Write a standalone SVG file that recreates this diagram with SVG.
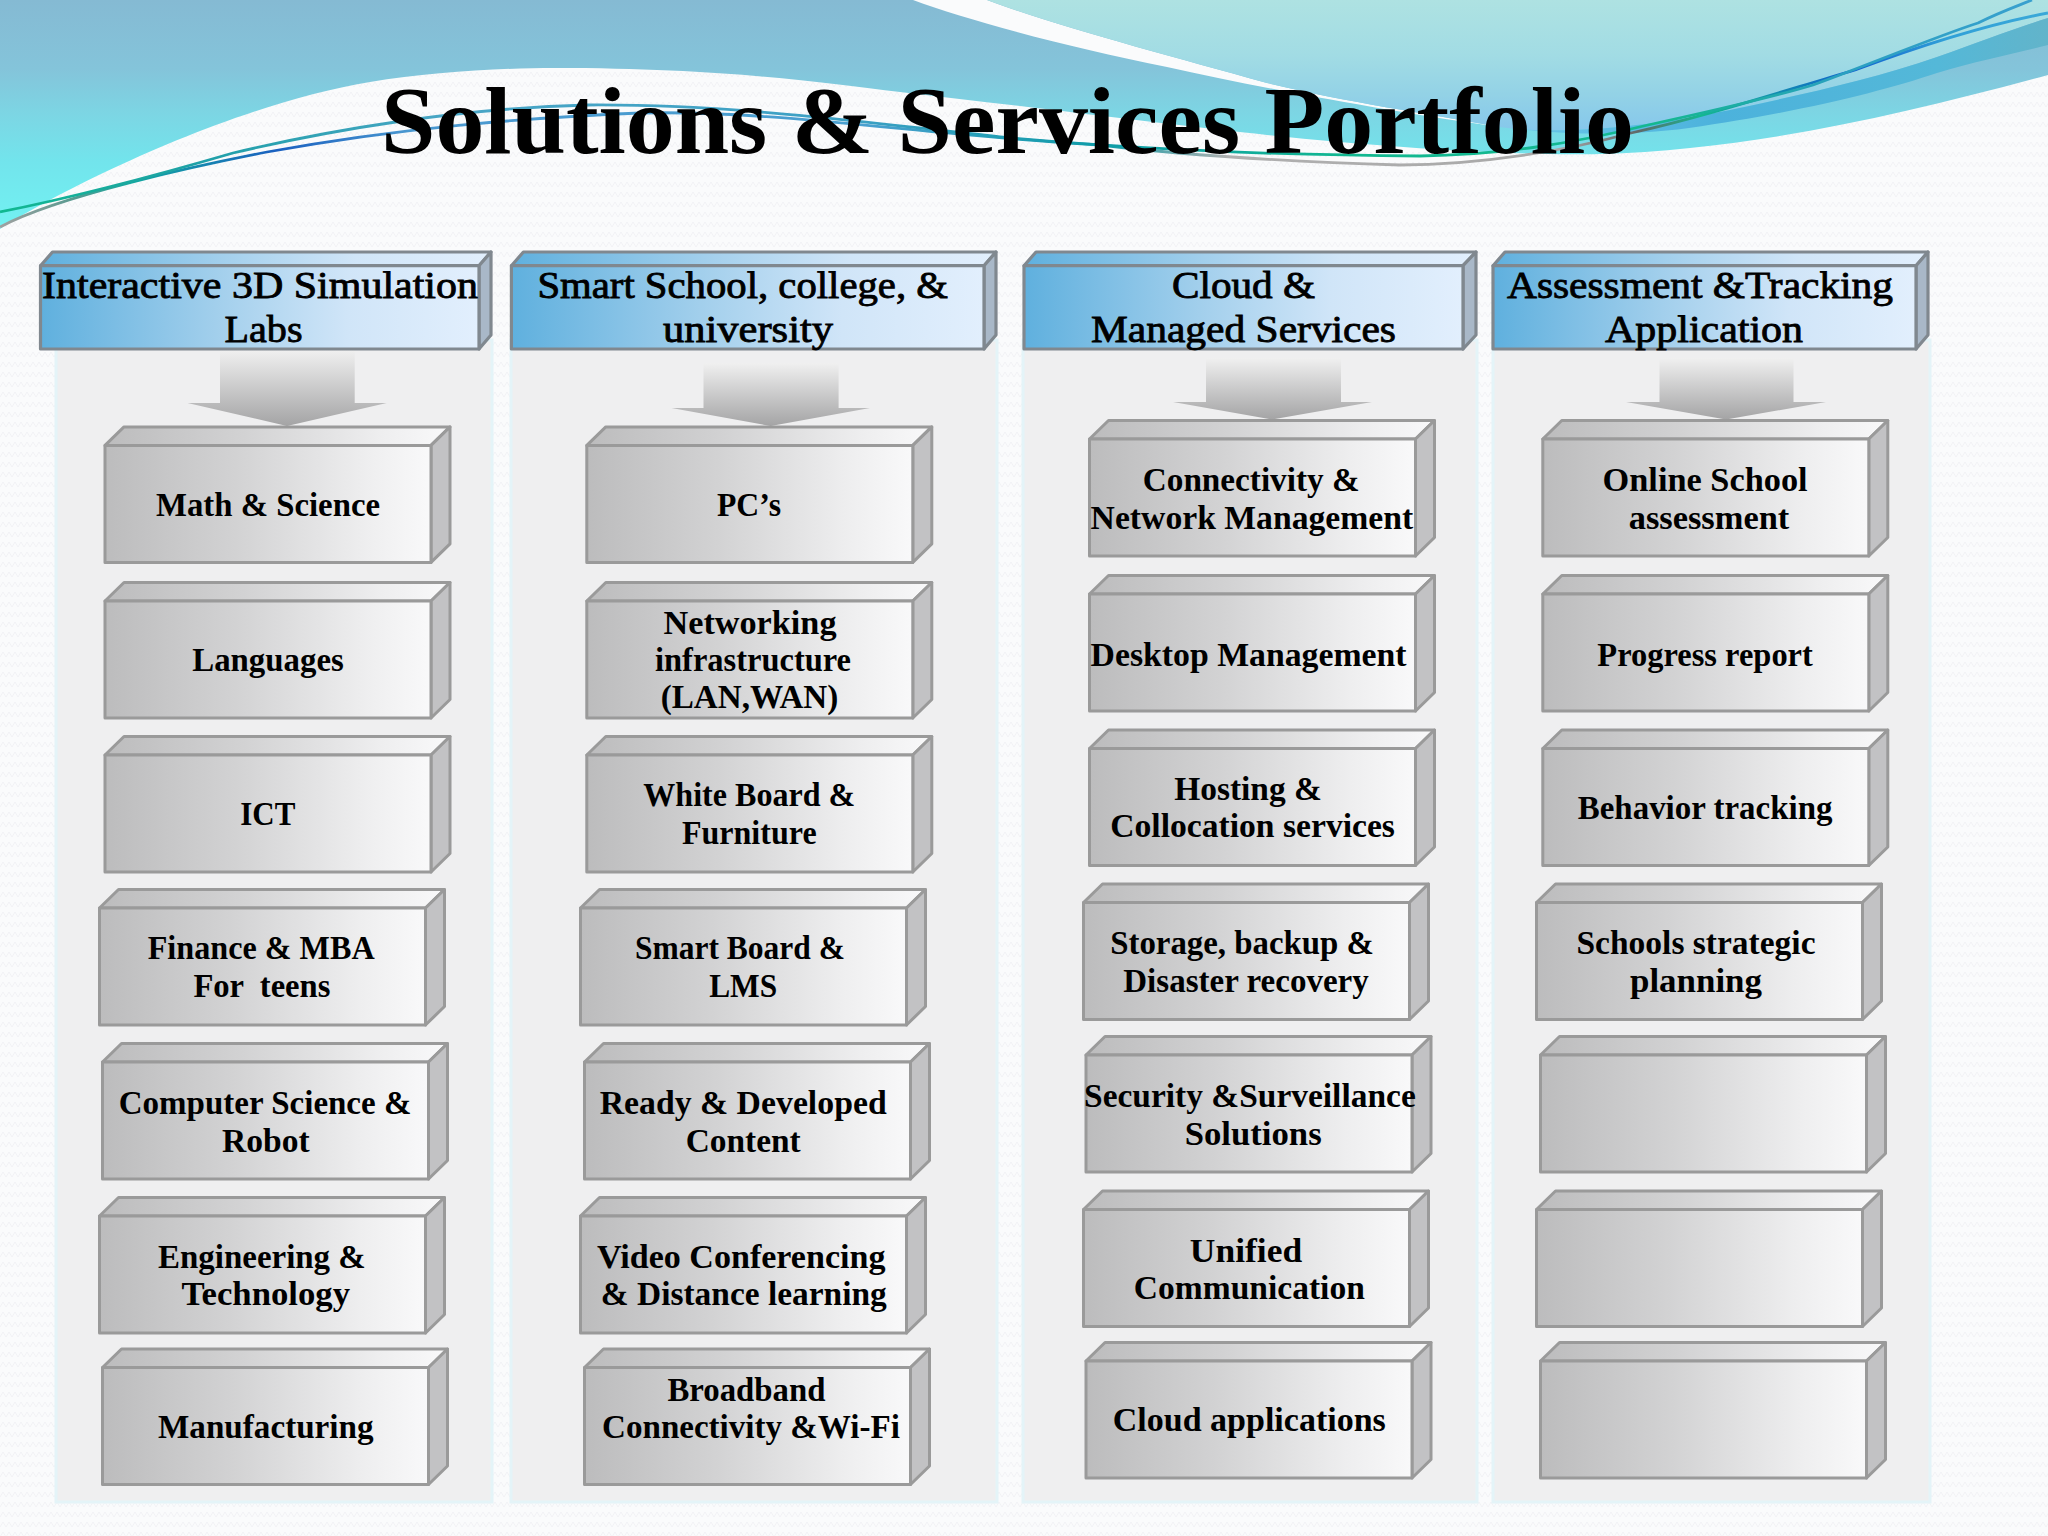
<svg xmlns="http://www.w3.org/2000/svg" xmlns:xlink="http://www.w3.org/1999/xlink" width="2048" height="1536" viewBox="0 0 2048 1536">
<style>
text{font-family:"Liberation Serif","Times New Roman",serif;fill:#000;text-anchor:middle}
.t{font-size:33px;font-weight:700;white-space:pre}
.h{font-size:38px;font-weight:400;stroke:#000;stroke-width:.85}
.title{font-size:96px;font-weight:700}
.panel{fill:#efeff0;stroke:#e4f4f8;stroke-width:3}
.hf{fill:url(#hg);stroke:#80888f;stroke-width:3.2;stroke-linejoin:round}
.hs{fill:#a9b8c8;stroke:#80888f;stroke-width:3.2;stroke-linejoin:round}
.arrow{fill:url(#ag)}
.wire{fill:none;stroke-width:2.8}
</style>
<defs>
<pattern id="tex" width="12" height="10" patternUnits="userSpaceOnUse"><path d="M0 7 L3 2 L6 7 L9 2 L12 7" fill="none" stroke="#f1f2f5" stroke-width="1"/></pattern>
<linearGradient id="ga" x1="0" y1="0" x2="0" y2="230" gradientUnits="userSpaceOnUse"><stop offset="0" stop-color="#85bad3"/><stop offset=".3" stop-color="#84c4da"/><stop offset=".5" stop-color="#7cd6e4"/><stop offset=".7" stop-color="#72e4ec"/><stop offset="1" stop-color="#72f2f2"/></linearGradient>
<linearGradient id="gb" x1="0" y1="0" x2="0" y2="135" gradientUnits="userSpaceOnUse"><stop offset="0" stop-color="#aee2e2"/><stop offset=".4" stop-color="#a2dce4"/><stop offset=".7" stop-color="#93d2e6"/><stop offset="1" stop-color="#84c6ec"/></linearGradient>
<linearGradient id="gd" x1="1499" y1="0" x2="2048" y2="0" gradientUnits="userSpaceOnUse"><stop offset="0" stop-color="#6cc8ea"/><stop offset=".4" stop-color="#4cb2dc"/><stop offset=".8" stop-color="#54b8d8"/><stop offset="1" stop-color="#62b4ca"/></linearGradient>
<linearGradient id="l1" x1="0" y1="0" x2="2048" y2="0" gradientUnits="userSpaceOnUse"><stop offset="0" stop-color="#10b890"/><stop offset=".1" stop-color="#1fa0a8"/><stop offset=".22" stop-color="#4aa6c6"/><stop offset=".42" stop-color="#3ba0c4"/><stop offset=".54" stop-color="#0e9ca8"/><stop offset=".66" stop-color="#12b890"/><stop offset=".81" stop-color="#14b890"/><stop offset=".9" stop-color="#2aa0c0"/><stop offset="1" stop-color="#3aa0d0"/></linearGradient>
<linearGradient id="l2" x1="0" y1="0" x2="2048" y2="0" gradientUnits="userSpaceOnUse"><stop offset="0" stop-color="#a0a0a0"/><stop offset=".035" stop-color="#5a9a90"/><stop offset=".065" stop-color="#12a8a0"/><stop offset=".135" stop-color="#1a60c0"/><stop offset=".2" stop-color="#4a98d0"/><stop offset=".42" stop-color="#4aa0d0"/><stop offset=".54" stop-color="#109ca8"/><stop offset=".6" stop-color="#b0b0b0"/><stop offset=".76" stop-color="#a8a8a8"/><stop offset=".8" stop-color="#606868"/><stop offset=".83" stop-color="#14b890"/><stop offset=".905" stop-color="#1060d0"/><stop offset=".95" stop-color="#30a0d8"/><stop offset="1" stop-color="#3aa8d8"/></linearGradient>
<linearGradient id="fg" x1="0" y1="0" x2="1" y2="0"><stop offset="0" stop-color="#bcbcbd"/><stop offset=".4" stop-color="#d2d2d3"/><stop offset=".8" stop-color="#eeeeef"/><stop offset="1" stop-color="#f9f9fa"/></linearGradient>
<linearGradient id="hg" x1="0" y1="0" x2="1" y2="0"><stop offset="0" stop-color="#5fb0de"/><stop offset=".4" stop-color="#a2cfec"/><stop offset=".7" stop-color="#d0e5f8"/><stop offset="1" stop-color="#e2effd"/></linearGradient>
<linearGradient id="ag" x1="0" y1="0" x2="0" y2="1"><stop offset="0" stop-color="#f0f0f0"/><stop offset="1" stop-color="#a4a4a5"/></linearGradient>
<g id="box" stroke="#9a9a9a" stroke-width="3" stroke-linejoin="round">
<polygon points="0,0 19,-18.500 345,-18.500 326,0" fill="url(#fg)"/>
<polygon points="326,0 345,-18.500 345,98.500 326,117" fill="#c2c2c4"/>
<rect x="0" y="0" width="326" height="117" fill="url(#fg)"/>
</g>
</defs>

<g id="background">
<rect width="2048" height="1536" fill="#fafbfc"/>
<rect width="2048" height="1536" fill="url(#tex)"/>
<path id="wave-main" fill="url(#ga)" d="M0,0 H2048 V75 C1900,115 1750,150 1600,154 C1520,156 1390,148 1267,135 C1180,126 1040,108 900,92 C820,82 720,68 555,68 C500,68 430,72 370,82 C230,105 60,190 0,229 Z"/>
<path id="wave-band" fill="#fafbfc" d="M913,0 C967,20 1067,47 1167,67 C1270,90 1400,113 1499,127 C1420,112 1350,103 1267,83 C1167,55 1060,27 987,0 Z"/>
<path id="wave-upper" fill="url(#gb)" d="M987,0 C1060,27 1167,55 1267,83 C1350,103 1420,112 1499,127 C1560,135 1640,128 1730,110 C1800,95 1870,80 1937,57 C1980,42 2010,30 2048,18 V0 Z"/>
<path id="wave-dark" fill="url(#gd)" d="M1499,127 C1560,135 1640,128 1730,110 C1800,95 1870,80 1937,57 C1980,42 2010,30 2048,18 V45 C2010,55 1980,60 1937,73 C1880,92 1800,112 1689,128 C1620,137 1560,134 1499,127 Z"/>
<path class="wire" stroke="url(#l2)" d="M0,227 C60,195 200,165 267,152 C400,128 520,118 640,113 C780,110 920,135 1100,145 C1200,157 1300,162 1400,165 C1480,165 1570,150 1631,133 C1700,118 1780,92 1855,70 C1930,42 2000,22 2048,13"/>
<path class="wire" stroke="url(#l1)" d="M0,212 C60,200 130,183 233,153 C330,130 460,108 588,105 C720,104 850,120 1000,137 C1120,148 1250,155 1420,156 C1500,155 1570,144 1648,125 C1730,107 1790,92 1813,85 C1860,68 1940,35 1978,23 C2000,12 2020,5 2032,0"/>
</g>

<g id="panels">
<rect class="panel" x="56" y="340" width="436" height="1162"/>
<rect class="panel" x="511" y="340" width="486" height="1162"/>
<rect class="panel" x="1023" y="340" width="454" height="1162"/>
<rect class="panel" x="1493" y="340" width="437" height="1162"/>
</g>

<text id="title" class="title" x="1007.500" y="153" textLength="1253" lengthAdjust="spacingAndGlyphs">Solutions &amp; Services Portfolio</text>

<g id="connectors">
<polygon class="arrow" points="220,350 354.700,350 354.700,403 386.700,403 287,426 187.500,403 220,403"/>
<polygon class="arrow" points="703.500,363 838.600,363 838.600,408 870,408 770.700,426 671.500,408 703.500,408"/>
<polygon class="arrow" points="1206,358 1341,358 1341,402 1372,402 1272,419.500 1173,402 1206,402"/>
<polygon class="arrow" points="1659.500,358 1793.500,358 1793.500,402 1826,402 1726,419.500 1626,402 1659.500,402"/>
</g>

<g id="header-1">
<polygon class="hf" points="40.500,265.700 52.500,252 491,252 479,265.700"/>
<polygon class="hs" points="479,265.700 491,252 491,335 479,349"/>
<rect class="hf" x="40.500" y="265.700" width="438.500" height="83.300"/>
<text class="h" x="260" y="298" textLength="436" lengthAdjust="spacingAndGlyphs">Interactive 3D Simulation</text>
<text class="h" x="263.500" y="342" textLength="78" lengthAdjust="spacingAndGlyphs">Labs</text>
</g>
<g id="header-2">
<polygon class="hf" points="511.400,265.700 523.400,252 996,252 984,265.700"/>
<polygon class="hs" points="984,265.700 996,252 996,335 984,349"/>
<rect class="hf" x="511.400" y="265.700" width="472.600" height="83.300"/>
<text class="h" x="742.700" y="298" textLength="410.500" lengthAdjust="spacingAndGlyphs">Smart School, college, &amp;</text>
<text class="h" x="748" y="342" textLength="170" lengthAdjust="spacingAndGlyphs">university</text>
</g>
<g id="header-3">
<polygon class="hf" points="1024,265.700 1036,252 1476,252 1463,265.700"/>
<polygon class="hs" points="1463,265.700 1476,252 1476,335 1463,349"/>
<rect class="hf" x="1024" y="265.700" width="439" height="83.300"/>
<text class="h" x="1243.500" y="298" textLength="143" lengthAdjust="spacingAndGlyphs">Cloud &amp;</text>
<text class="h" x="1243.500" y="342" textLength="305" lengthAdjust="spacingAndGlyphs">Managed Services</text>
</g>
<g id="header-4">
<polygon class="hf" points="1493,265.700 1505,252 1928,252 1916,265.700"/>
<polygon class="hs" points="1916,265.700 1928,252 1928,335 1916,349"/>
<rect class="hf" x="1493" y="265.700" width="423" height="83.300"/>
<text class="h" x="1700" y="298" textLength="386" lengthAdjust="spacingAndGlyphs">Assessment &amp;Tracking</text>
<text class="h" x="1704" y="342" textLength="198" lengthAdjust="spacingAndGlyphs">Application</text>
</g>

<g id="math-science"><use href="#box" x="105" y="445.400"/><text class="t" x="268" y="515.500" textLength="224" lengthAdjust="spacingAndGlyphs">Math &amp; Science</text></g>
<g id="languages"><use href="#box" x="105" y="601"/><text class="t" x="268" y="670.700" textLength="151.500" lengthAdjust="spacingAndGlyphs">Languages</text></g>
<g id="ict"><use href="#box" x="105" y="755"/><text class="t" x="267.800" y="825" textLength="55" lengthAdjust="spacingAndGlyphs">ICT</text></g>
<g id="finance-mba"><use href="#box" x="99.500" y="908"/><text class="t" x="261.200" y="959" textLength="227" lengthAdjust="spacingAndGlyphs">Finance &amp; MBA</text><text class="t" x="261.900" y="997" textLength="137" lengthAdjust="spacingAndGlyphs">For  teens</text></g>
<g id="computer-science"><use href="#box" x="102.500" y="1062"/><text class="t" x="265.100" y="1114" textLength="292.600" lengthAdjust="spacingAndGlyphs">Computer Science &amp;</text><text class="t" x="265.800" y="1151.500" textLength="87.500" lengthAdjust="spacingAndGlyphs">Robot</text></g>
<g id="engineering"><use href="#box" x="99.500" y="1216"/><text class="t" x="261.900" y="1268" textLength="207.700" lengthAdjust="spacingAndGlyphs">Engineering &amp;</text><text class="t" x="265.800" y="1305" textLength="168.500" lengthAdjust="spacingAndGlyphs">Technology</text></g>
<g id="manufacturing"><use href="#box" x="102.500" y="1367.500"/><text class="t" x="265.800" y="1438" textLength="215.500" lengthAdjust="spacingAndGlyphs">Manufacturing</text></g>

<g id="pcs"><use href="#box" x="586.800" y="445.400"/><text class="t" x="749" y="515.500" textLength="64" lengthAdjust="spacingAndGlyphs">PC’s</text></g>
<g id="networking"><use href="#box" x="586.800" y="601"/><text class="t" x="750" y="633.500" textLength="173" lengthAdjust="spacingAndGlyphs">Networking</text><text class="t" x="753" y="671" textLength="196" lengthAdjust="spacingAndGlyphs">infrastructure</text><text class="t" x="749.500" y="708" textLength="177.600" lengthAdjust="spacingAndGlyphs">(LAN,WAN)</text></g>
<g id="white-board"><use href="#box" x="586.800" y="755"/><text class="t" x="749.300" y="806" textLength="212" lengthAdjust="spacingAndGlyphs">White Board &amp;</text><text class="t" x="749.300" y="843.500" textLength="134.700" lengthAdjust="spacingAndGlyphs">Furniture</text></g>
<g id="smart-board"><use href="#box" x="580.500" y="908"/><text class="t" x="739.900" y="959" textLength="210" lengthAdjust="spacingAndGlyphs">Smart Board &amp;</text><text class="t" x="743.200" y="997" textLength="68" lengthAdjust="spacingAndGlyphs">LMS</text></g>
<g id="ready-content"><use href="#box" x="584.500" y="1062"/><text class="t" x="743.200" y="1114" textLength="287" lengthAdjust="spacingAndGlyphs">Ready &amp; Developed</text><text class="t" x="743.200" y="1151.500" textLength="115" lengthAdjust="spacingAndGlyphs">Content</text></g>
<g id="video-conferencing"><use href="#box" x="580.500" y="1216"/><text class="t" x="741.200" y="1268" textLength="288.600" lengthAdjust="spacingAndGlyphs">Video Conferencing</text><text class="t" x="743.800" y="1305" textLength="286" lengthAdjust="spacingAndGlyphs">&amp; Distance learning</text></g>
<g id="broadband"><use href="#box" x="584.500" y="1367.500"/><text class="t" x="746.400" y="1401" textLength="158" lengthAdjust="spacingAndGlyphs">Broadband</text><text class="t" x="751" y="1438" textLength="297.800" lengthAdjust="spacingAndGlyphs">Connectivity &amp;Wi-Fi</text></g>

<g id="connectivity"><use href="#box" x="1089.500" y="439"/><text class="t" x="1251.200" y="491" textLength="216.800" lengthAdjust="spacingAndGlyphs">Connectivity &amp;</text><text class="t" x="1251.900" y="529" textLength="322.600" lengthAdjust="spacingAndGlyphs">Network Management</text></g>
<g id="desktop"><use href="#box" x="1089.500" y="594"/><text class="t" x="1248.600" y="665.500" textLength="316" lengthAdjust="spacingAndGlyphs">Desktop Management</text></g>
<g id="hosting"><use href="#box" x="1089.500" y="748.500"/><text class="t" x="1248" y="799.500" textLength="147.600" lengthAdjust="spacingAndGlyphs">Hosting &amp;</text><text class="t" x="1252.600" y="837" textLength="284.700" lengthAdjust="spacingAndGlyphs">Collocation services</text></g>
<g id="storage"><use href="#box" x="1083.500" y="902.500"/><text class="t" x="1242.100" y="954" textLength="263.800" lengthAdjust="spacingAndGlyphs">Storage, backup &amp;</text><text class="t" x="1246" y="991.500" textLength="245.500" lengthAdjust="spacingAndGlyphs">Disaster recovery</text></g>
<g id="security"><use href="#box" x="1086" y="1055"/><text class="t" x="1249.900" y="1106.500" textLength="331.700" lengthAdjust="spacingAndGlyphs">Security &amp;Surveillance</text><text class="t" x="1253.200" y="1145" textLength="137" lengthAdjust="spacingAndGlyphs">Solutions</text></g>
<g id="unified"><use href="#box" x="1083.500" y="1209.500"/><text class="t" x="1246" y="1262" textLength="112.300" lengthAdjust="spacingAndGlyphs">Unified</text><text class="t" x="1249.300" y="1298.500" textLength="231" lengthAdjust="spacingAndGlyphs">Communication</text></g>
<g id="cloud-apps"><use href="#box" x="1086" y="1361"/><text class="t" x="1249.300" y="1431" textLength="273" lengthAdjust="spacingAndGlyphs">Cloud applications</text></g>

<g id="online-assessment"><use href="#box" x="1542.800" y="439"/><text class="t" x="1705.100" y="491" textLength="205" lengthAdjust="spacingAndGlyphs">Online School</text><text class="t" x="1709" y="528.500" textLength="160.600" lengthAdjust="spacingAndGlyphs">assessment</text></g>
<g id="progress"><use href="#box" x="1542.800" y="594"/><text class="t" x="1705.100" y="665.500" textLength="215.500" lengthAdjust="spacingAndGlyphs">Progress report</text></g>
<g id="behavior"><use href="#box" x="1542.800" y="748.500"/><text class="t" x="1705.100" y="819" textLength="254.700" lengthAdjust="spacingAndGlyphs">Behavior tracking</text></g>
<g id="strategic"><use href="#box" x="1536.500" y="902.500"/><text class="t" x="1696" y="954" textLength="239" lengthAdjust="spacingAndGlyphs">Schools strategic</text><text class="t" x="1696" y="991.500" textLength="132" lengthAdjust="spacingAndGlyphs">planning</text></g>
<g id="empty-1"><use href="#box" x="1540.500" y="1055"/></g>
<g id="empty-2"><use href="#box" x="1536.500" y="1209.500"/></g>
<g id="empty-3"><use href="#box" x="1540.500" y="1361"/></g>
</svg>
